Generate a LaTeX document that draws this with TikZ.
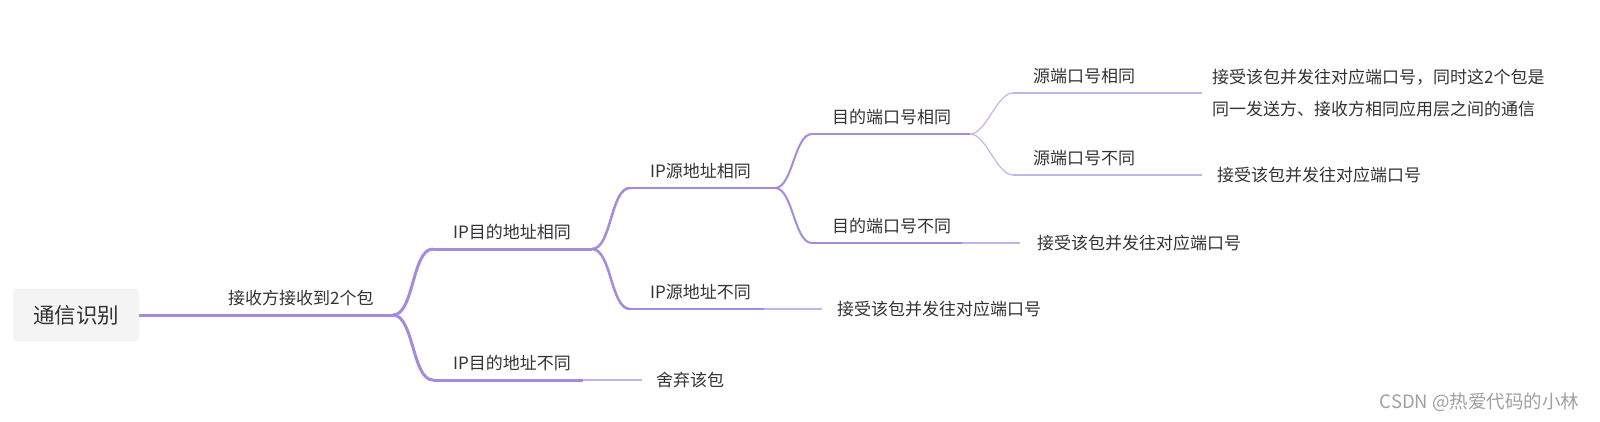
\documentclass[tikz,border=0pt]{standalone}
\usepackage{fontspec}
\setmainfont{Noto Sans CJK SC}
\definecolor{branch}{HTML}{A68ADB}
\definecolor{faint}{HTML}{C4B2EC}
\definecolor{txt}{HTML}{333333}
\definecolor{rootbg}{HTML}{F4F4F4}
\definecolor{wmark}{HTML}{A0A0A0}

\begin{document}
\begin{tikzpicture}[x=1pt, y=-1pt, text=txt,
  font=\fontsize{17}{20}\selectfont,
  topic/.style={anchor=base west, inner sep=0pt},
  leaf/.style={anchor=west, inner sep=0pt, align=left}]
  \useasboundingbox (0,0) rectangle (1600,421);

  % Root topic
  \node[fill=rootbg, rounded corners=4pt, minimum width=126pt, minimum height=53pt,
        font=\fontsize{21.5}{26}\selectfont] (root) at (76,315) {通信识别};

  % Topics: name / line start / line end / y / width / colour / text
  \foreach \n/\a/\b/\y/\w/\c/\t in {
    recv/208/393/315/3/branch/接收方接收到2个包,
    ipsame/433/592/249/3/branch/IP目的地址相同,
    ipdiff/433/583/380/3/branch/IP目的地址不同,
    srcsame/630/775/188/2.5/branch/IP源地址相同,
    srcdiff/630/764/309/2.5/branch/IP源地址不同,
    dpsame/812/970/134/2/branch/目的端口号相同,
    dpdiff/812/962/243/2/branch/目的端口号不同,
    spsame/1013/1120/93/1.2/faint/源端口号相同,
    spdiff/1013/1120/175/1.2/faint/源端口号不同} {
    \coordinate (\n-in) at (\a,\y);
    \coordinate (\n-out) at (\b,\y);
    \draw[\c, line width=\w pt] (\n-in) -- (\n-out);
    \node[topic] (\n) at (\a+20,\y-11) {\t};
  }

  % Connectors between topics
  \draw[branch, line width=3pt] (root.east) -- (recv-in);
  \foreach \p/\q/\w/\c in {
    recv/ipsame/3/branch, recv/ipdiff/3/branch,
    ipsame/srcsame/2.5/branch, ipsame/srcdiff/2.5/branch,
    srcsame/dpsame/2/branch, srcsame/dpdiff/2/branch,
    dpsame/spsame/1.2/faint, dpsame/spdiff/1.2/faint} {
    \draw[\c, line width=\w pt] (\p-out) to[out=0, in=180, looseness=0.7] (\q-in);
  }

  % Leaves: name / parent / line tip / text x / width / text
  \foreach \n/\p/\e/\x/\w/\t in {
    drop/ipdiff/642/656/2/舍弃该包,
    acc1/srcdiff/822/837/2/接受该包并发往对应端口号,
    acc2/dpdiff/1020/1037/1.6/接受该包并发往对应端口号,
    acc3/spsame/1202/1212/1.2/{接受该包并发往对应端口号，同时这2个包是\\[12pt]同一发送方、接收方相同应用层之间的通信},
    acc4/spdiff/1202/1217/1.2/接受该包并发往对应端口号} {
    \coordinate (\n-tip) at (\p-out -| \e,0);
    \draw[faint, line width=\w pt] (\p-out) -- (\n-tip);
    \node[leaf] (\n) at (\n-tip -| \x,0) {\t};
  }

  % Watermark
  \node[anchor=east, text=wmark, font=\fontsize{18.5}{22}\selectfont] (credit) at (1583,402) {CSDN @热爱代码的小林};
\end{tikzpicture}
\end{document}
